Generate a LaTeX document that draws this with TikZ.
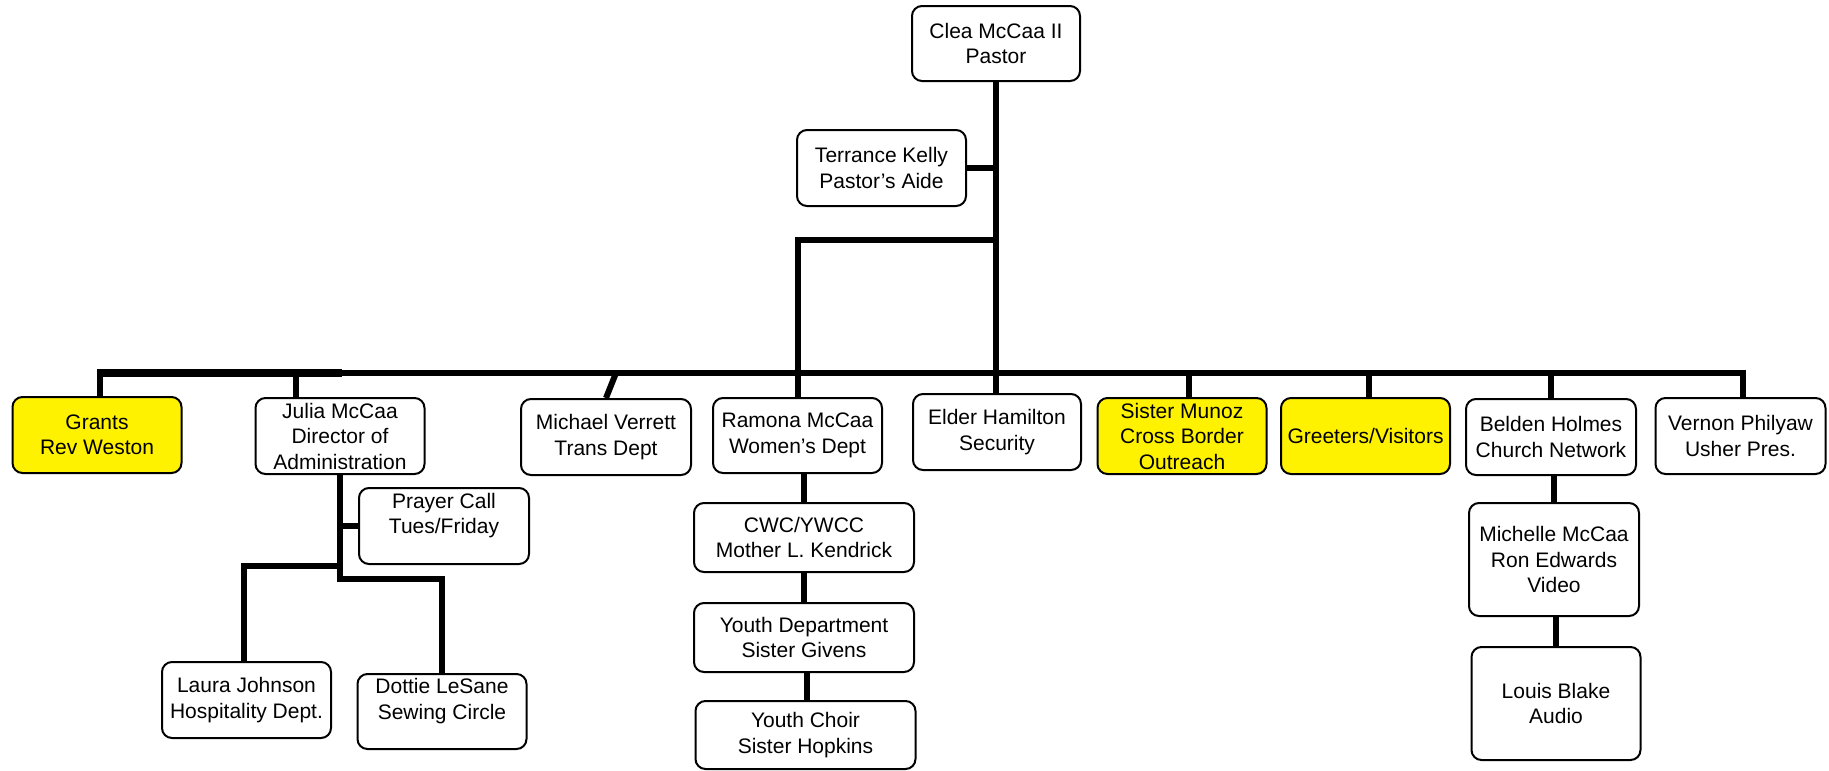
\documentclass[tikz,border=0pt]{standalone}
\usepackage{fontspec}
\setmainfont{Liberation Sans}
\begin{document}
\begin{tikzpicture}[x=1pt,y=-1pt,
  box/.style={draw, rounded corners=10pt, line width=2pt, align=center, inner sep=0pt,
    font=\fontsize{21}{25.5}\selectfont, fill=white},
  hl/.style={box, fill=yellow},
  conn/.style={line width=6pt},
  thickbus/.style={line width=8.5pt}]
\useasboundingbox (0,0) rectangle (1829,771);
% nodes
\node[box, minimum width=168, minimum height=75] (pastor) at (996,43.5) {Clea McCaa II\\Pastor};
\node[box, minimum width=169, minimum height=76] (aide) at (881.5,168) {Terrance Kelly\\Pastor’s Aide};
\node[hl, minimum width=169, minimum height=76] (grants) at (97,435) {Grants\\Rev Weston};
\node[box, minimum width=169, minimum height=76] (julia) at (340,436) {Julia McCaa\\Director of\\Administration};
\node[box, minimum width=170, minimum height=76] (michael) at (606,437) {Michael Verrett\\Trans Dept};
\node[box, minimum width=169, minimum height=75] (ramona) at (797.5,435.5) {Ramona McCaa\\Women\char39 s Dept};
\node[box, minimum width=168, minimum height=76] (elder) at (997,432) {Elder Hamilton\\Security};
\node[hl, minimum width=169, minimum height=76] (munoz) at (1182,436) {Sister Munoz\\Cross Border\\Outreach};
\node[hl, minimum width=169, minimum height=76] (greeters) at (1365.5,436) {Greeters/Visitors};
\node[box, minimum width=170, minimum height=76] (belden) at (1551,437) {Belden Holmes\\Church Network};
\node[box, minimum width=170, minimum height=76] (vernon) at (1740.5,436) {Vernon Philyaw\\Usher Pres.};
\node[box, minimum width=170, minimum height=113] (michelle) at (1554,559.5) {Michelle McCaa\\Ron Edwards\\Video};
\node[box, minimum width=169, minimum height=113] (louis) at (1556,703.5) {Louis Blake\\Audio};
\node[box, minimum width=170, minimum height=76] (prayer) at (444,526) {Prayer Call\\Tues/Friday\\\mbox{}};
\node[box, minimum width=169, minimum height=76] (laura) at (246.5,700) {Laura Johnson\\Hospitality Dept.};
\node[box, minimum width=169, minimum height=75] (dottie) at (442,711.5) {Dottie LeSane\\Sewing Circle\\\mbox{}};
\node[box, minimum width=220, minimum height=69] (cwc) at (804,537.5) {CWC/YWCC\\Mother L. Kendrick};
\node[box, minimum width=220, minimum height=69] (ydept) at (804,637.5) {Youth Department\\Sister Givens};
\node[box, minimum width=220, minimum height=68] (choir) at (805.5,735) {Youth Choir\\Sister Hopkins};
% coordinates
\coordinate (busL) at (100,373);
\coordinate (split) at (996,240);
\coordinate (mtop) at (616,373);
% connectors
\draw[conn] (pastor.south) -- (pastor.south |- elder.north);
\draw[conn] (aide.east) -- (aide.east -| pastor.south);
\draw[conn] (split) -| (ramona.north);
\draw[conn] ([xshift=3pt]grants.north) |- ([xshift=2.5pt]vernon.north |- busL) -- ([xshift=2.5pt]vernon.north);
\draw[thickbus] (grants.north |- busL) -- (342,373);
\draw[conn] ([xshift=-44pt]julia.north) -- ([xshift=-44pt]julia.north |- busL);
\draw[conn] (michael.north) -- (mtop);
\draw[conn] ([xshift=7pt]munoz.north) -- ([xshift=7pt]munoz.north |- busL);
\draw[conn] ([xshift=3pt]greeters.north) -- ([xshift=3pt]greeters.north |- busL);
\draw[conn] (belden.north) -- (belden.north |- busL);
\draw[conn] (julia.south) -- ++(0,104) -| (dottie.north);
\draw[conn] (julia.south) ++(0,91) -| ([xshift=-2.5pt]laura.north);
\draw[conn] (prayer.west) -- (prayer.west -| julia.south);
\draw[conn] (cwc.north |- ramona.south) -- (cwc.north);
\draw[conn] (ydept.north |- cwc.south) -- (ydept.north);
\draw[conn] ([xshift=1pt]choir.north |- ydept.south) -- ([xshift=1pt]choir.north);
\draw[conn] (michelle.north |- belden.south) -- (michelle.north);
\draw[conn] (louis.north |- michelle.south) -- (louis.north);
\end{tikzpicture}
\end{document}
